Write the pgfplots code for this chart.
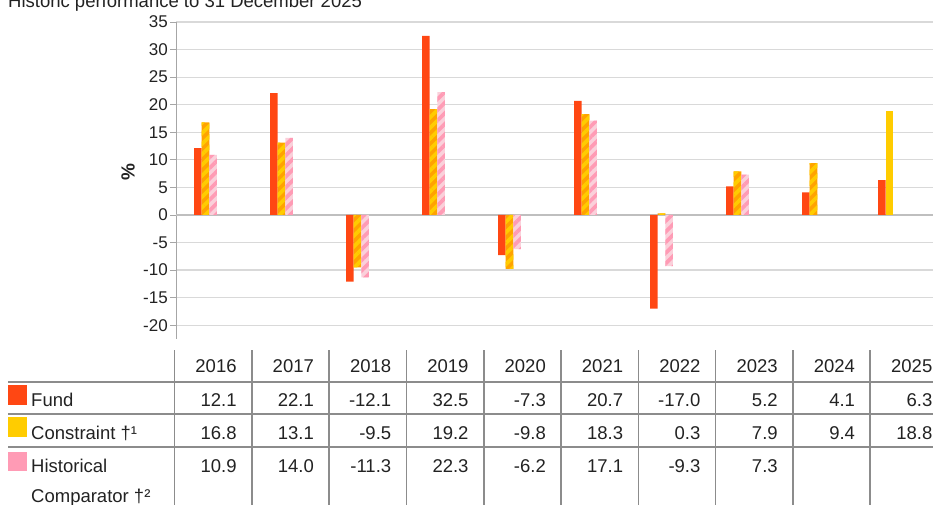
\documentclass[border=0pt]{standalone}
\usepackage{fontspec}
\setmainfont{Liberation Sans}
\usepackage{pgfplots}
\pgfplotsset{compat=1.18}
\usetikzlibrary{patterns.meta}

\definecolor{fundc}{HTML}{FF4713}
\definecolor{consc}{HTML}{FFCC00}
\definecolor{consd}{HTML}{FFA300}
\definecolor{histc}{HTML}{FF9BB5}
\definecolor{histl}{HTML}{FAD0DA}
\definecolor{gridc}{HTML}{D9D9D9}
\definecolor{rulec}{HTML}{8C8C8C}
\definecolor{txt}{HTML}{222222}

\begin{document}
\begin{tikzpicture}[x=1pt,y=1pt,font=\fontsize{18.5}{18.5}\selectfont,text=txt]
\begin{axis}[
    at={(176pt,166pt)}, anchor=south west,
    scale only axis, width=757pt, height=317pt,
    xmin=-0.388, xmax=9.572, ymin=-22.5, ymax=35,
    axis x line=none, axis y line*=left,
    ytick={-20,-15,...,35},
    ymajorgrids, grid style={gridc, line width=1.2pt},
    y axis line style={draw=gray!70, line width=0.8pt},
    ytick style={draw=gray!70, line width=0.8pt},
    tick align=outside, major tick length=6pt,
    yticklabel style={font=\fontsize{17}{17}\selectfont, inner sep=2pt, text=txt},
    /pgf/number format/assume math mode=true,
    extra y ticks={0}, extra y tick labels={},
    extra y tick style={grid style={gray!50, line width=1.8pt}, major tick length=0pt},
    ybar, bar width=0.1,
]
% Fund
\addplot[draw=none, fill=fundc, bar shift=-0.1] coordinates {
    (0,12.1) (1,22.1) (2,-12.1) (3,32.5) (4,-7.3)
    (5,20.7) (6,-17.0) (7,5.2) (8,4.1) (9,6.3)
};
% Constraint (striped)
\addplot[draw=none, fill=consd, bar shift=0,
    postaction={pattern={Lines[angle=45,distance=7.5pt,line width=3.7pt]}, pattern color=consc}]
    coordinates {
    (0,16.8) (1,13.1) (2,-9.5) (3,19.2) (4,-9.8)
    (5,18.3) (6,0.3) (7,7.9) (8,9.4)
};
% Constraint 2025 (solid)
\addplot[draw=none, fill=consc, bar shift=0] coordinates {(9,18.8)};
% Historical Comparator
\addplot[draw=none, fill=histl, bar shift=0.1,
    postaction={pattern={Lines[angle=45,distance=7.5pt,line width=3.7pt]}, pattern color=histc}]
    coordinates {
    (0,10.9) (1,14.0) (2,-11.3) (3,22.3) (4,-6.2)
    (5,17.1) (6,-9.3) (7,7.3)
};
\end{axis}

% title and y label
\node[anchor=base west, inner sep=0pt] at (8,497) {Historic performance to 31 December 2025};
\node[rotate=90, font=\bfseries\fontsize{19}{19}\selectfont] at (128,333) {\%};

% table grid
\foreach \k in {0,...,9}
    \draw[rulec, line width=1.6pt] ({174.5+77.3*\k},0) -- ({174.5+77.3*\k},155);
\foreach \yy in {123,91,58}
    \draw[rulec, line width=1.6pt] (8,\yy) -- (933,\yy);

% header
\foreach \v [count=\i] in {2016,2017,2018,2019,2020,2021,2022,2023,2024,2025}
    \node[anchor=base east, inner sep=0pt] at ({174.5+77.3*\i-15},132) {\v};
% rows
\foreach \v [count=\i] in {12.1,22.1,-12.1,32.5,-7.3,20.7,-17.0,5.2,4.1,6.3}
    \node[anchor=base east, inner sep=0pt] at ({174.5+77.3*\i-15},98) {\v};
\foreach \v [count=\i] in {16.8,13.1,-9.5,19.2,-9.8,18.3,0.3,7.9,9.4,18.8}
    \node[anchor=base east, inner sep=0pt] at ({174.5+77.3*\i-15},65) {\v};
\foreach \v [count=\i] in {10.9,14.0,-11.3,22.3,-6.2,17.1,-9.3,7.3}
    \node[anchor=base east, inner sep=0pt] at ({174.5+77.3*\i-15},32) {\v};

% row labels and legend keys
\fill[fundc] (8,100) rectangle (27,120);
\fill[consc] (8,68) rectangle (27,88);
\fill[histc] (8,34) rectangle (27,53);
\node[anchor=base west, inner sep=0pt] at (31,98) {Fund};
\node[anchor=base west, inner sep=0pt] at (31,65) {Constraint †¹};
\node[anchor=base west, inner sep=0pt] at (31,32) {Historical};
\node[anchor=base west, inner sep=0pt] at (31,2) {Comparator †²};

\pgfresetboundingbox
\path[use as bounding box] (0,0) rectangle (933,505);
\end{tikzpicture}
\end{document}
